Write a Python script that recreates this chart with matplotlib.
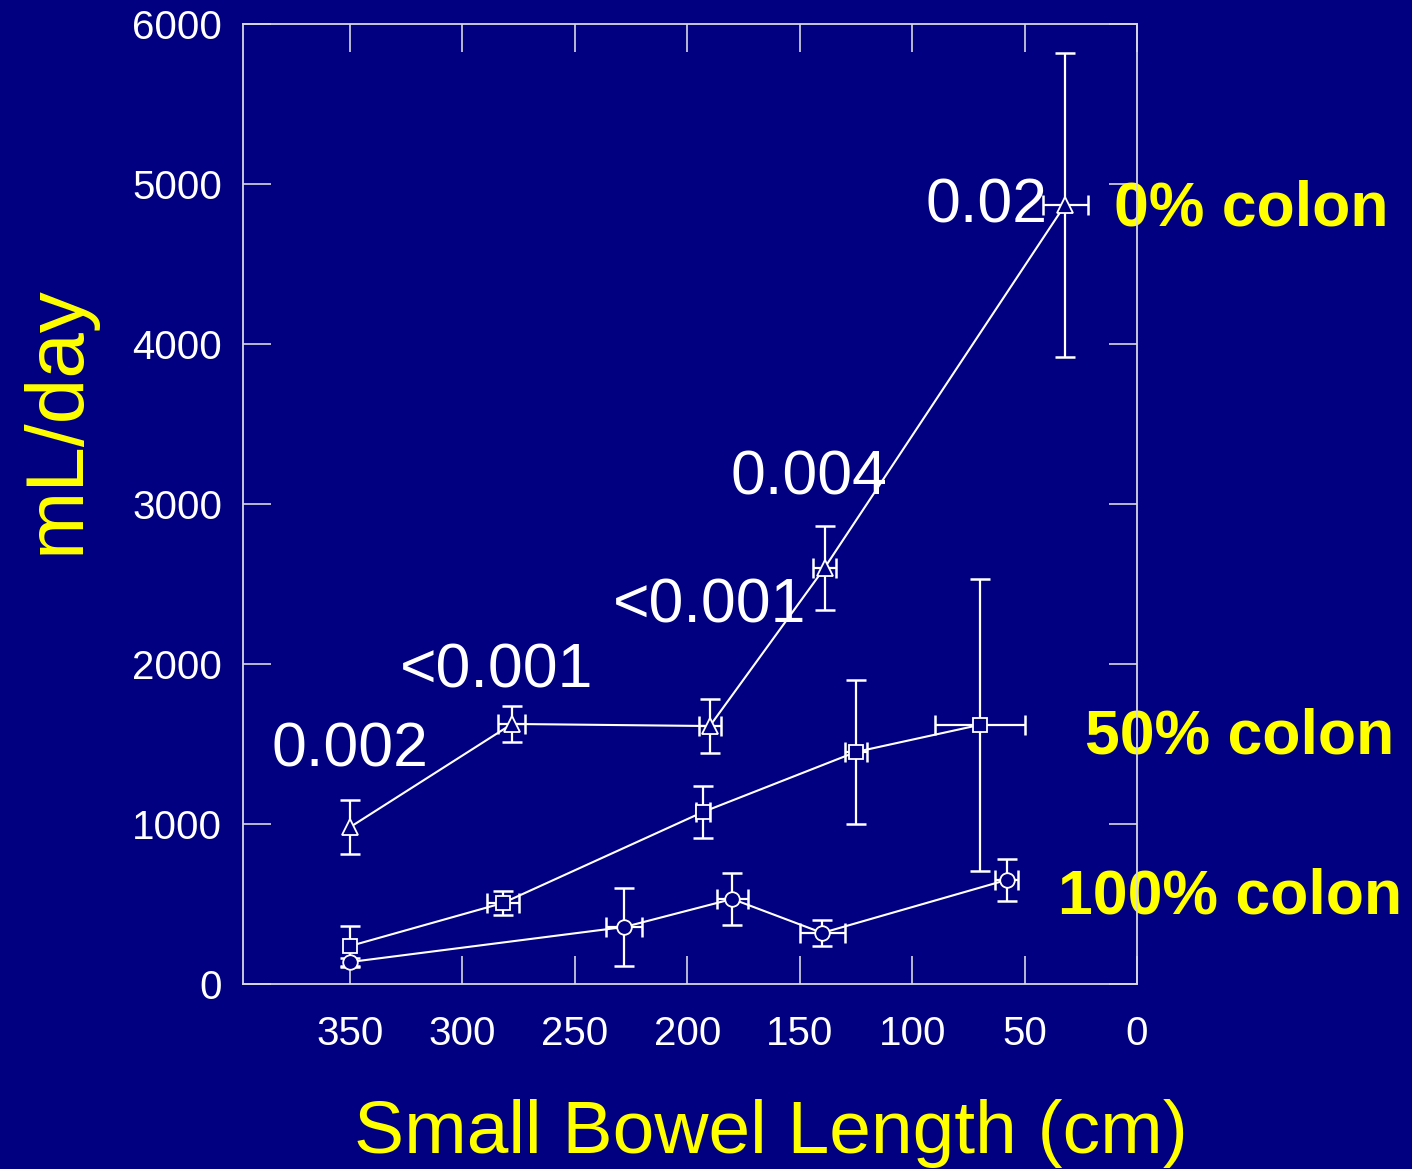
import numpy as np
import matplotlib
matplotlib.use("Agg")
import matplotlib.pyplot as plt

plt.rcParams['font.family'] = ['Liberation Sans', 'DejaVu Sans']

NAVY = '#000080'
WHITE = 'white'
YELLOW = '#ffff00'
FRAME = '#d8d8e0'

# 0% colon (triangles)
x0 = [350, 278, 190, 139, 32]
y0 = [980, 1625, 1612, 2600, 4870]
yerr0 = [170, 112, 170, 262, 950]
xerr0 = [0, 6, 5, 5, 10]

# 50% colon (squares)
x50 = [350, 282, 193, 125, 70]
y50 = [237, 506, 1075, 1450, 1619]
yerr50 = [125, 72, 160, 450, 910]
xerr50 = [0, 7, 3, 5, 20]

# 100% colon (circles)
x100 = [350, 228, 180, 140, 58]
y100 = [137, 356, 531, 319, 650]
yerr100 = [28, 244, 165, 80, 130]
xerr100 = [0, 8, 7, 10, 5]

xticks = [350, 300, 250, 200, 150, 100, 50, 0]
yticks = [0, 1000, 2000, 3000, 4000, 5000, 6000]

pvals = ['0.002', '<0.001', '<0.001', '0.004', '0.02']
p_x = [350, 285, 190, 146, 67]
p_y = [1460, 1955, 2360, 3160, 4860]

series_labels = ['0% colon', '50% colon', '100% colon']

fig = plt.figure(figsize=(14.12, 11.69), dpi=100, facecolor=NAVY)
ax = fig.add_axes([0.1721, 0.1583, 0.8053 - 0.1721, 0.9795 - 0.1583])
ax.set_facecolor(NAVY)

series = [(x0, y0, xerr0, yerr0, '^', 11.5),
          (x50, y50, xerr50, yerr50, 's', 9.5),
          (x100, y100, xerr100, yerr100, 'o', 10.5)]

for xs, ys, xe, ye, mk, ms in series:
    xs = np.array(xs); ys = np.array(ys); xe = np.array(xe); ye = np.array(ye)
    ax.errorbar(xs, ys, yerr=ye, fmt='none', ecolor=WHITE, elinewidth=1.6,
                capsize=7, capthick=1.8, zorder=2)
    m = xe > 0
    ax.errorbar(xs[m], ys[m], xerr=xe[m], fmt='none', ecolor=WHITE, elinewidth=1.6,
                capsize=7, capthick=1.8, zorder=2)
    ax.plot(xs, ys, color=WHITE, lw=1.5, marker=mk, markersize=ms,
            markerfacecolor=NAVY, markeredgecolor=WHITE, markeredgewidth=1.3, zorder=3)

for t, px, py in zip(pvals, p_x, p_y):
    ax.text(px, py, t, color=WHITE, fontsize=45, ha='center', va='center', zorder=4)

ax.set_xlim(397.6, 0)
ax.set_ylim(0, 6000)
ax.set_xticks(xticks)
ax.set_yticks(yticks)
ax.set_xticklabels([str(v) for v in xticks])
ax.set_yticklabels([str(v) for v in yticks])
ax.tick_params(axis='both', direction='in', length=20, width=1.2, color=FRAME,
               labelcolor=WHITE, labelsize=29, top=True, right=True)
ax.tick_params(axis='x', pad=22)
ax.tick_params(axis='y', pad=15)
for s in ax.spines.values():
    s.set_color(FRAME)
    s.set_linewidth(1.3)

# series labels (yellow, bold) - drawn under the right spine
lab_pos = [(1251, 209), (1240, 737), (1230, 897)]
for lab, (px, py) in zip(series_labels, lab_pos):
    ax.text(px / 1412, 1 - py / 1169, lab, color=YELLOW, fontsize=45,
            fontweight='bold', ha='center', va='center',
            transform=fig.transFigure, clip_on=False, zorder=2)

fig.text(58 / 1412, 1 - 420 / 1169, 'mL/day', color=YELLOW, fontsize=59,
         rotation=90, ha='center', va='center')
fig.text(771 / 1412, 1 - 1134 / 1169, 'Small Bowel Length (cm)', color=YELLOW,
         fontsize=54, ha='center', va='center')

fig.savefig('out.png', dpi=100, facecolor=NAVY)
